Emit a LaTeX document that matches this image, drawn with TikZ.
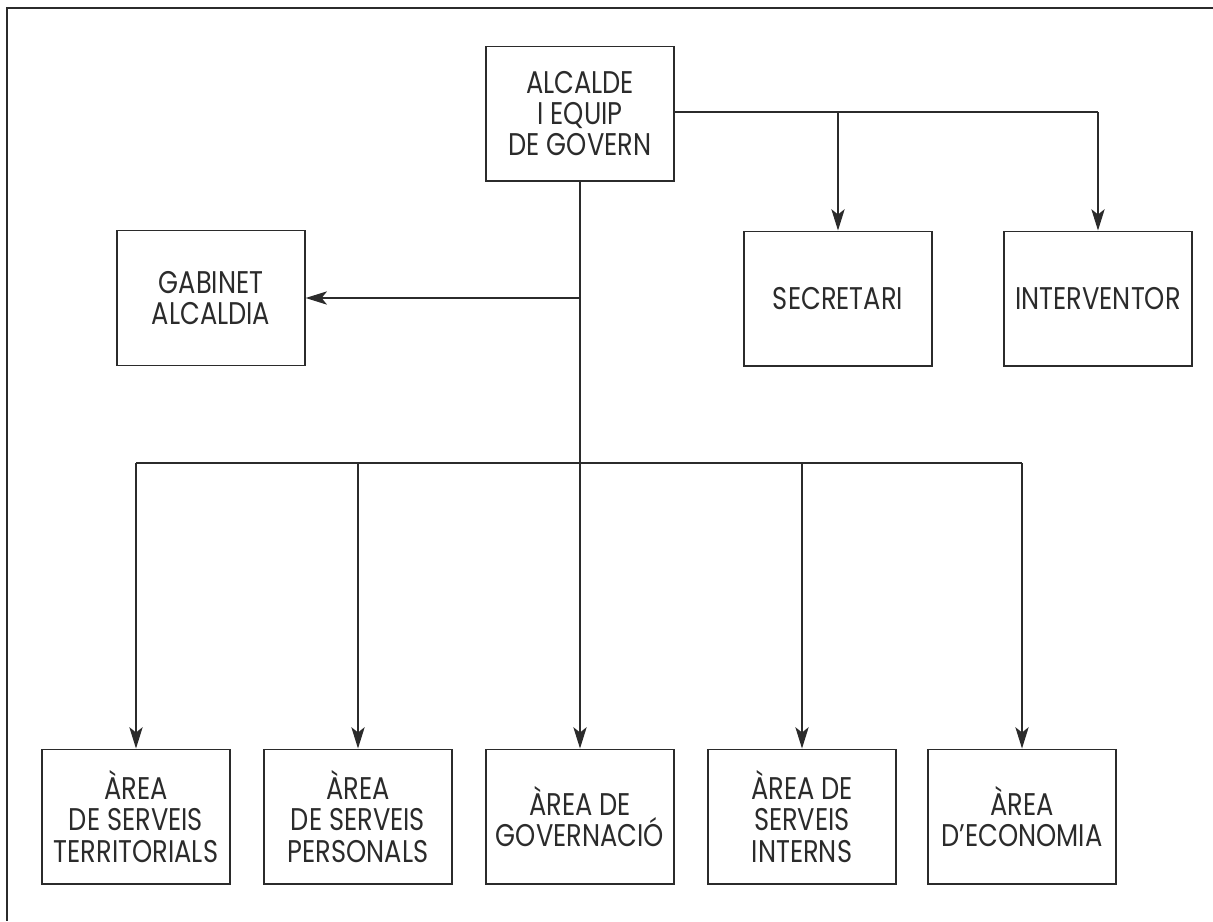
\documentclass[tikz,border=0pt]{standalone}
\usepackage{fontspec}
\setmainfont{Poppins}[FakeStretch=0.82]
\usetikzlibrary{arrows.meta}
\definecolor{ink}{HTML}{2B2B2B}
\begin{document}
\begin{tikzpicture}[x=0.75pt,y=-0.75pt,
  orgbox/.style={draw=ink,line width=1pt,minimum width=141pt,minimum height=101pt,
    inner sep=0pt,align=center,text=ink,font=\fontsize{23.5}{23.5}\selectfont},
  link/.style={draw=ink,line width=0.9pt},
  arr/.style={link,-{Stealth[length=16pt,width=10pt,inset=4pt]}}]
\useasboundingbox (0,0) rectangle (1213,921);
% page frame
\draw[link] (1213,8) -- (7,8) -- (7,921);

% top level
\node[orgbox] (alc) at (580,113.5) {ALCALDE\\I EQUIP\\DE GOVERN};
\node[orgbox] (gab) at (211,298) {GABINET\\ALCALDIA};
\node[orgbox] (sec) at (838,298.5) {SECRETARI};
\node[orgbox] (int) at (1098,298.5) {INTERVENTOR};

% areas
\node[orgbox] (a1) at (136,816.5) {ÀREA\\DE SERVEIS\\TERRITORIALS};
\node[orgbox] (a2) at (358,816.5) {ÀREA\\DE SERVEIS\\PERSONALS};
\node[orgbox] (a3) at (580,816.5) {ÀREA DE\\GOVERNACIÓ};
\node[orgbox] (a4) at (802,816.5) {ÀREA DE\\SERVEIS\\INTERNS};
\node[orgbox] (a5) at (1022,816.5) {ÀREA\\D’ECONOMIA};

% junction points
\coordinate (jr) at (alc.east |- 0,112);
\coordinate (jg) at (580,298);
\coordinate (bus) at (580,463);

% right branch
\draw[link] (jr) -- (int.north |- jr);
\draw[arr] (int.north |- jr) -- (int.north);
\draw[arr] (sec.north |- jr) -- (sec.north);

% trunk and cabinet
\draw[link] (alc.south) -- (bus);
\draw[arr] (jg) -- (gab.east);

% distribution bus
\draw[link] (a1.north |- bus) -- (a5.north |- bus);
\foreach \n in {a1,a2,a3,a4,a5}
  \draw[arr] (\n.north |- bus) -- (\n.north);
\end{tikzpicture}
\end{document}
